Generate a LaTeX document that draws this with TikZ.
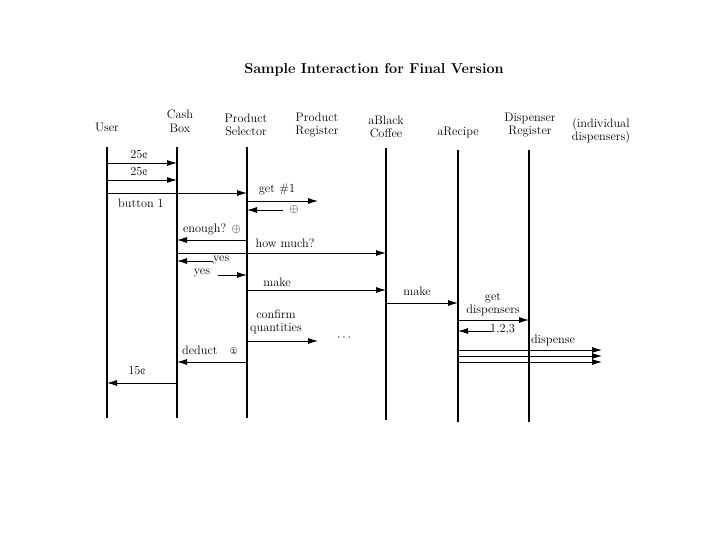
\documentclass[tikz,border=0pt]{standalone}
\usepackage{fontspec}
\newfontfamily\symf{DejaVu Sans}
\usetikzlibrary{arrows.meta}
\begin{document}
\begin{tikzpicture}[x=1pt,y=-1pt,
  life/.style={line width=1.1pt},
  msg/.style={line width=0.9pt,-{Latex[length=10pt,width=6pt]}},
  hdr/.style={font=\fontsize{12.3}{13.5}\selectfont,align=center,inner sep=0pt},
  lbl/.style={font=\fontsize{12.3}{13}\selectfont,align=center,inner sep=0pt}]
\useasboundingbox (0,0) rectangle (720,540);
\node[font=\bfseries\fontsize{14.4}{16}\selectfont,inner sep=0pt] (title) at (374,70) {Sample Interaction for Final Version};
% headers
\node[hdr] (hU) at (107,127) {User};
\node[hdr] (hC) at (180,121) {Cash\\Box};
\node[hdr] (hP) at (246,125) {Product\\Selector};
\node[hdr] (hR) at (317,125) {Product\\Register};
\node[hdr] (hB) at (386,127) {aBlack\\Coffee};
\node[hdr] (hA) at (458,132) {aRecipe};
\node[hdr] (hD) at (530,125) {Dispenser\\Register};
\node[hdr] (hI) at (601,131) {(individual\\dispensers)};
% lifelines
\coordinate (U) at (107,147); \coordinate (Ub) at (107,418);
\coordinate (C) at (177,147); \coordinate (Cb) at (177,418);
\coordinate (P) at (247,147); \coordinate (Pb) at (247,418);
\coordinate (B) at (386,148); \coordinate (Bb) at (386,420);
\coordinate (A) at (458,150); \coordinate (Ab) at (458,422);
\coordinate (D) at (529,150); \coordinate (Db) at (529,422);
\draw[life] (U) -- (Ub);
\draw[life] (C) -- (Cb);
\draw[life] (P) -- (Pb);
\draw[life] (B) -- (Bb);
\draw[life] (A) -- (Ab);
\draw[life] (D) -- (Db);
% free ends
\coordinate (pr1) at (318,201);
\coordinate (pr2) at (283,210);
\coordinate (y1) at (213,261);
\coordinate (y2) at (218,275);
\coordinate (ds) at (492,331);
\coordinate (cq) at (318,341);
\coordinate (i1) at (602,350);
\coordinate (i2) at (602,356);
\coordinate (i3) at (602,362);
% messages
\node[lbl] (l1) at (139,155) {25¢};
\draw[msg] (U |- 0,163) -- (C |- 0,163);
\node[lbl] (l2) at (139,172) {25¢};
\draw[msg] (U |- 0,180) -- (C |- 0,180);
\draw[msg] (U |- 0,193) -- (P |- 0,193);
\node[lbl] (l3) at (141,203) {button 1};
\node[lbl] (l4) at (277,189) {get \#1};
\draw[msg] (P |- pr1) -- (pr1);
\draw[msg] (pr2) -- (P |- pr2);
\node[lbl] (l5) at (294,210) {$\oplus$};
\node[lbl] (l6) at (212,229) {enough? $\oplus$};
\draw[msg] (P |- 0,240) -- (C |- 0,240);
\node[lbl] (l7) at (285,243) {how much?};
\draw[msg] (C |- 0,253) -- (B |- 0,253);
\draw[msg] (y1) -- (C |- y1);
\node[lbl,anchor=west] (l8) at (213,260) {yes};
\node[lbl] (l9) at (202,273) {yes};
\draw[msg] (y2) -- (P |- y2);
\node[lbl] (l10) at (277,282) {make};
\draw[msg] (P |- 0,290) -- (B |- 0,290);
\node[lbl] (l11) at (417,291) {make};
\draw[msg] (B |- 0,303) -- (A |- 0,303);
\node[lbl] (l12) at (493,304) {get\\dispensers};
\draw[msg] (A |- 0,320) -- (D |- 0,320);
\draw[msg] (ds) -- (A |- ds);
\node[lbl,anchor=west] (l13) at (490,330) {1,2,3};
\node[lbl] (l14) at (553,340) {dispense};
\draw[msg] (A |- i1) -- (i1);
\draw[msg] (A |- i2) -- (i2);
\draw[msg] (A |- i3) -- (i3);
\node[lbl] (l15) at (276,322) {confirm\\quantities};
\draw[msg] (P |- cq) -- (cq);
\node[lbl] (dots) at (344,338) {$\cdots$};
\node[lbl] (l16) at (210,350) {deduct\quad{\symf\fontsize{9}{10}\selectfont ①}};
\draw[msg] (P |- 0,362) -- (C |- 0,362);
\node[lbl] (l17) at (137,371) {15¢};
\draw[msg] (C |- 0,383) -- (U |- 0,383);
\end{tikzpicture}
\end{document}
